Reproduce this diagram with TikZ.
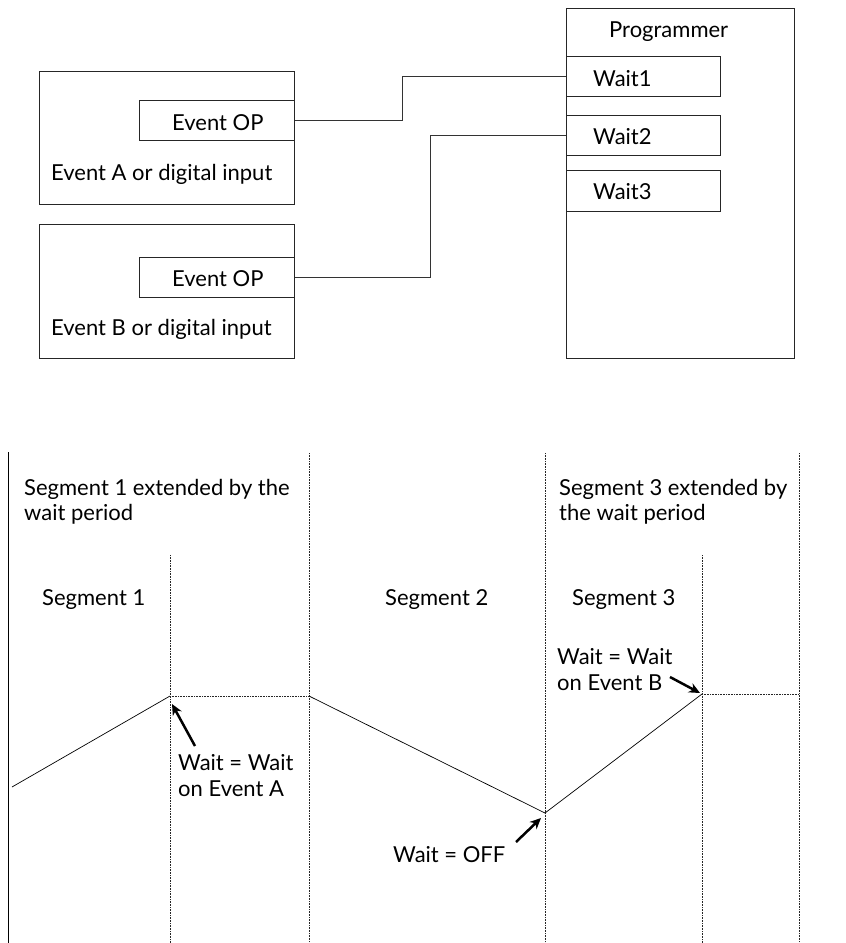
\documentclass[tikz,border=0pt]{standalone}
\usepackage{fontspec}
\setmainfont{Lato}
\usetikzlibrary{arrows.meta,calc}
\begin{document}
\begin{tikzpicture}[x=1pt,y=-1pt,
  box/.style={draw=black!85,line width=0.9pt,anchor=north west,inner sep=0pt},
  lbl/.style={anchor=base west,inner sep=0pt,font=\fontsize{22}{25.5}\selectfont,align=left},
  conn/.style={draw=black!80,line width=0.9pt},
  grid/.style={draw=black!85,line width=0.8pt,dash pattern=on 0.8pt off 0.8pt},
  prof/.style={draw=black,line width=0.7pt},
  pointer/.style={draw=black,line width=2.5pt,-{Stealth[length=11pt,width=10pt]}}]
\useasboundingbox (0,0) rectangle (846,943);
% top part
\node[box,minimum width=255pt,minimum height=133pt] (boxA) at (39,71) {};
\node[box,minimum width=155pt,minimum height=40pt] (opA) at (139,100) {};
\node[box,minimum width=255pt,minimum height=134pt] (boxB) at (39,224) {};
\node[box,minimum width=155pt,minimum height=40pt] (opB) at (139,257) {};
\node[box,minimum width=228pt,minimum height=350pt] (prog) at (566,8) {};
\node[box,minimum width=154pt,minimum height=40pt] (w1) at (566,56) {};
\node[box,minimum width=154pt,minimum height=40pt] (w2) at (566,115) {};
\node[box,minimum width=154pt,minimum height=41pt] (w3) at (566,170) {};
\node[lbl] (tProg) at (609,37) {Programmer};
\node[lbl] (tW1) at (593,86) {Wait1};
\node[lbl] (tW2) at (593,144) {Wait2};
\node[lbl] (tW3) at (593,199) {Wait3};
\node[lbl] (tOpA) at (172,130) {Event OP};
\node[lbl] (tOpB) at (172,286) {Event OP};
\node[lbl] (tA) at (51,180) {Event A or digital input};
\node[lbl] (tB) at (51,335) {Event B or digital input};
\draw[conn] (opA.east) -- ([xshift=108pt]opA.east) |- (w1.west);
\draw[conn] (opB.east) -- ([xshift=136pt]opB.east) |- (w2.west);
% bottom part
\coordinate (v0t) at (8,452);   \coordinate (v0b) at (8,943);
\coordinate (v1t) at (170,555); \coordinate (v1b) at (170,943);
\coordinate (v2t) at (309,453); \coordinate (v2b) at (309,943);
\coordinate (v3t) at (545,453); \coordinate (v3b) at (545,943);
\coordinate (v4t) at (702,555); \coordinate (v4b) at (702,943);
\coordinate (v5t) at (799,453); \coordinate (v5b) at (799,943);
\draw[draw=black,line width=0.9pt] (v0t) -- (v0b);
\draw[grid] (v1t) -- (v1b);
\draw[grid] (v2t) -- (v2b);
\draw[grid] (v3t) -- (v3b);
\draw[grid] (v4t) -- (v4b);
\draw[grid] (v5t) -- (v5b);
\coordinate (p0) at (12,787);
\coordinate (p1) at (170,696);
\coordinate (p2) at (309,696);
\coordinate (p3) at (545,813);
\coordinate (p4) at (702,694);
\coordinate (p5) at (799,694);
\draw[prof] (p0) -- (p1);
\draw[grid] (p1) -- (p2);
\draw[prof] (p2) -- (p3) -- (p4);
\draw[grid] (p4) -- (p5);
% multi-line labels: base anchor is the last line's baseline
\node[lbl] (tS1x) at (24,520.5) {Segment 1 extended by the\\wait period};
\node[lbl] (tS3x) at (559,520.5) {Segment 3 extended by\\the wait period};
\node[lbl] (tS1) at (42,605) {Segment 1};
\node[lbl] (tS2) at (385,605) {Segment 2};
\node[lbl] (tS3) at (572,605) {Segment 3};
\node[lbl] (tWA) at (178,796) {Wait = Wait\\on Event A};
\node[lbl] (tWB) at (557,690) {Wait = Wait\\on Event B};
\node[lbl] (tWO) at (393,862) {Wait = OFF};
\coordinate (aA) at (195,746); \coordinate (aAh) at (172,704);
\coordinate (aB) at (670,677); \coordinate (aBh) at (700,693);
\coordinate (aO) at (516,842); \coordinate (aOh) at (541,818);
\draw[pointer] (aA) -- (aAh);
\draw[pointer] (aB) -- (aBh);
\draw[pointer] (aO) -- (aOh);
\end{tikzpicture}
\end{document}
